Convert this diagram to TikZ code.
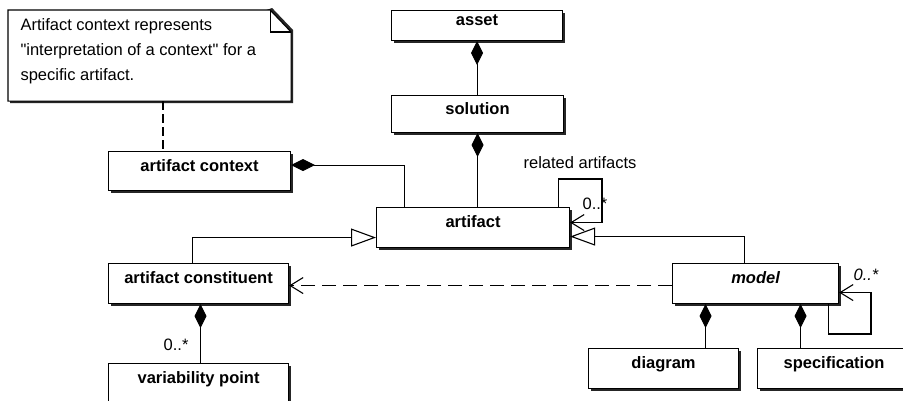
\documentclass[tikz,border=0pt]{standalone}
\usepackage{fontspec}
\setmainfont{Liberation Sans}[Ligatures=TeXOff]
\usetikzlibrary{arrows.meta,shadows,calc}
\begin{document}
\begin{tikzpicture}[x=1pt,y=-1pt,
  line width=1.1pt,
  cls/.style={draw, fill=white, inner sep=0pt, anchor=north west,
    text height=6pt, text depth=6pt,
    font=\fontsize{16.5}{18}\selectfont\bfseries,
    drop shadow={shadow xshift=2pt,shadow yshift=-2pt,fill=black!85,opacity=1}},
  comp/.style={{Diamond[length=24pt,width=12pt]}-},
  gen/.style={-{Triangle[open,length=25pt,width=18pt,fill=white]}},
  nav/.style={-{Straight Barb[length=13pt,width=16pt]}},
  dep/.style={nav, dash pattern=on 14pt off 7pt},
  lbl/.style={font=\fontsize{16.5}{18}\selectfont, inner sep=0pt}
]
\clip (0,0) rectangle (903,400);
\fill[white] (0,0) rectangle (903,400);

% note
\node[inner sep=0pt, minimum width=282pt, minimum height=90pt, anchor=north west] (note) at (8,10) {};
\fill[black!85] ($(note.north east)+(-19pt,2pt)$) -- ($(note.north east)+(2pt,-20pt)$) -- ($(note.south east)+(2pt,-2pt)$) -- ($(note.south west)+(2pt,-2pt)$) -- ($(note.south west)+(2pt,0)$) -- cycle;
\draw[fill=white] (note.north west) -- ([xshift=-21pt]note.north east) -- ([yshift=-22pt]note.north east) -- (note.south east) -- (note.south west) -- cycle;
\draw ([xshift=-21pt]note.north east) -- ([xshift=-21pt,yshift=-22pt]note.north east) -- ([yshift=-22pt]note.north east);
\node[anchor=north west, align=left, inner sep=0pt, font=\fontsize{16.5}{25}\selectfont] (notetext) at (20,18)
  {Artifact context represents\\ "interpretation of a context" for a\\ specific artifact.};

% classes
\node[cls, minimum width=171pt, minimum height=30pt] (asset) at (391,10) {asset};
\node[cls, minimum width=172pt, minimum height=37pt] (solution) at (391,95) {solution};
\node[cls, minimum width=182pt, minimum height=39pt] (actx) at (108,151) {artifact context};
\node[cls, minimum width=193pt, minimum height=40pt] (artifact) at (376,207) {artifact};
\node[cls, minimum width=180pt, minimum height=40pt] (acon) at (108,263) {artifact constituent};
\node[cls, minimum width=180pt, minimum height=40pt] (vp) at (108,363) {variability point};
\node[cls, minimum width=166pt, minimum height=40pt] (model) at (672,263) {\itshape model};
\node[cls, minimum width=150pt, minimum height=40pt] (diagram) at (588,348) {diagram};
\node[cls, minimum width=153pt, minimum height=40pt] (spec) at (757,348) {specification};

% note anchor
\coordinate (dx) at (163,0);
\draw[dash pattern=on 9pt off 4pt] (note.south -| dx) -- (actx.north -| dx);

% compositions
\draw[comp] (asset.south) -- (asset.south |- solution.north);
\draw[comp] (solution.south) -- (solution.south |- artifact.north);
\draw[comp] ([yshift=6pt]actx.east) -| ([xshift=-68.5pt]artifact.north);
\draw[comp] ([xshift=2pt]acon.south) -- ([xshift=2pt]acon.south |- vp.north);
\draw[comp] ([xshift=-50pt]model.south) -- ([xshift=-50pt]model.south |- diagram.north);
\draw[comp] ([xshift=45pt]model.south) -- ([xshift=45pt]model.south |- spec.north);

% generalizations
\draw[gen] ([xshift=-6pt]acon.north) |- ([yshift=-10pt]artifact.west);
\draw[gen] ([xshift=-11pt]model.north) |- ([yshift=-9pt]artifact.east);

% self association on artifact
\coordinate (ra1) at (602,179);
\draw[nav] ([xshift=85.5pt]artifact.north) |- (ra1) |- ([yshift=5pt]artifact.east);
\node[lbl] (relatedlbl) at (580,163) {related artifacts};
\node[lbl] (ramult) at (595,204) {0..*};

% dependency
\draw[dep] ([yshift=-2pt]model.west) -- ([yshift=-2pt]model.west -| acon.east);

% model self loop
\coordinate (ml1) at (871,334);
\draw[nav] ([xshift=73pt]model.south) |- (ml1) |- ([yshift=-9pt]model.east);
\node[lbl, font=\fontsize{16.5}{18}\selectfont\itshape] (mmult) at (866,275) {0..*};

% multiplicity
\node[lbl, anchor=east] (vpmult) at (189,345) {0..*};
\end{tikzpicture}
\end{document}
